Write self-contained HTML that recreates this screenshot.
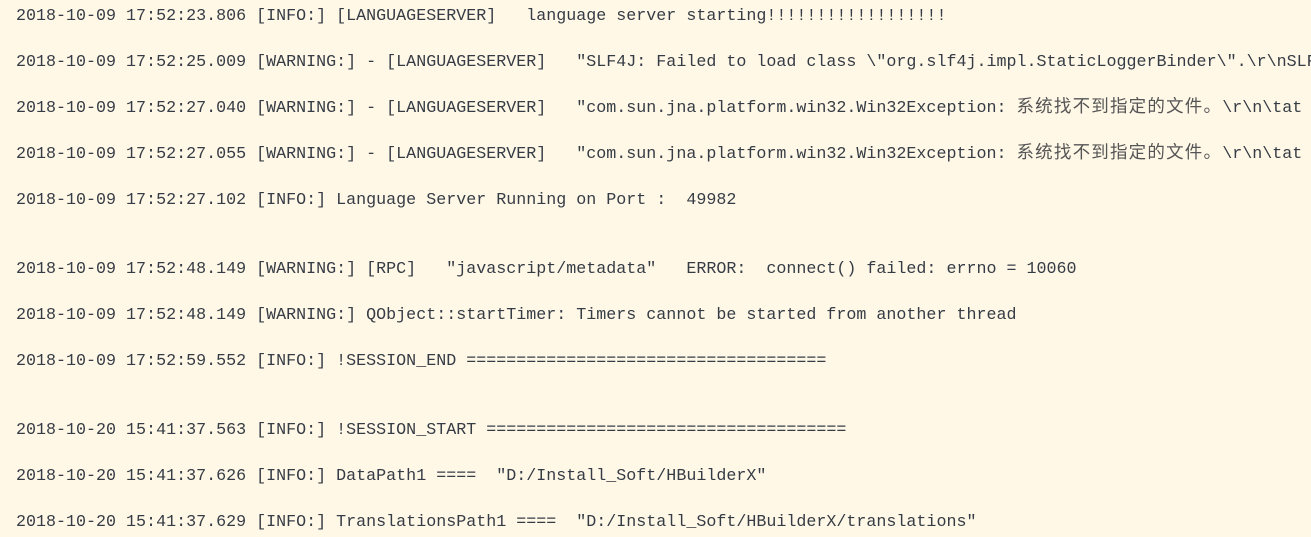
<!DOCTYPE html>
<html><head><meta charset="utf-8"><style>
html,body{margin:0;padding:0;}
body{width:1311px;height:537px;background:#fff8e7;overflow:hidden;position:relative;}
.l{position:absolute;left:16px;white-space:pre;font-family:"Liberation Mono","Noto Sans CJK SC",monospace;font-size:16.68px;line-height:23px;color:#363c45;}
.c{font-family:"Noto Sans CJK SC",sans-serif;font-size:17.5px;letter-spacing:1.2px;line-height:0;color:#555;}
</style></head><body>
<div class="l" style="top:5px">2018-10-09 17:52:23.806 [INFO:] [LANGUAGESERVER]   language server starting!!!!!!!!!!!!!!!!!!</div>
<div class="l" style="top:51px">2018-10-09 17:52:25.009 [WARNING:] - [LANGUAGESERVER]   "SLF4J: Failed to load class \"org.slf4j.impl.StaticLoggerBinder\".\r\nSLF4J</div>
<div class="l" style="top:97px">2018-10-09 17:52:27.040 [WARNING:] - [LANGUAGESERVER]   "com.sun.jna.platform.win32.Win32Exception: <span class="c">系统找不到指定的文件。</span>\r\n\tat</div>
<div class="l" style="top:143px">2018-10-09 17:52:27.055 [WARNING:] - [LANGUAGESERVER]   "com.sun.jna.platform.win32.Win32Exception: <span class="c">系统找不到指定的文件。</span>\r\n\tat</div>
<div class="l" style="top:189px">2018-10-09 17:52:27.102 [INFO:] Language Server Running on Port :  49982</div>
<div class="l" style="top:258px">2018-10-09 17:52:48.149 [WARNING:] [RPC]   "javascript/metadata"   ERROR:  connect() failed: errno = 10060</div>
<div class="l" style="top:304px">2018-10-09 17:52:48.149 [WARNING:] QObject::startTimer: Timers cannot be started from another thread</div>
<div class="l" style="top:350px">2018-10-09 17:52:59.552 [INFO:] !SESSION_END ====================================</div>
<div class="l" style="top:419px">2018-10-20 15:41:37.563 [INFO:] !SESSION_START ====================================</div>
<div class="l" style="top:465px">2018-10-20 15:41:37.626 [INFO:] DataPath1 ====  "D:/Install_Soft/HBuilderX"</div>
<div class="l" style="top:511px">2018-10-20 15:41:37.629 [INFO:] TranslationsPath1 ====  "D:/Install_Soft/HBuilderX/translations"</div>
</body></html>
